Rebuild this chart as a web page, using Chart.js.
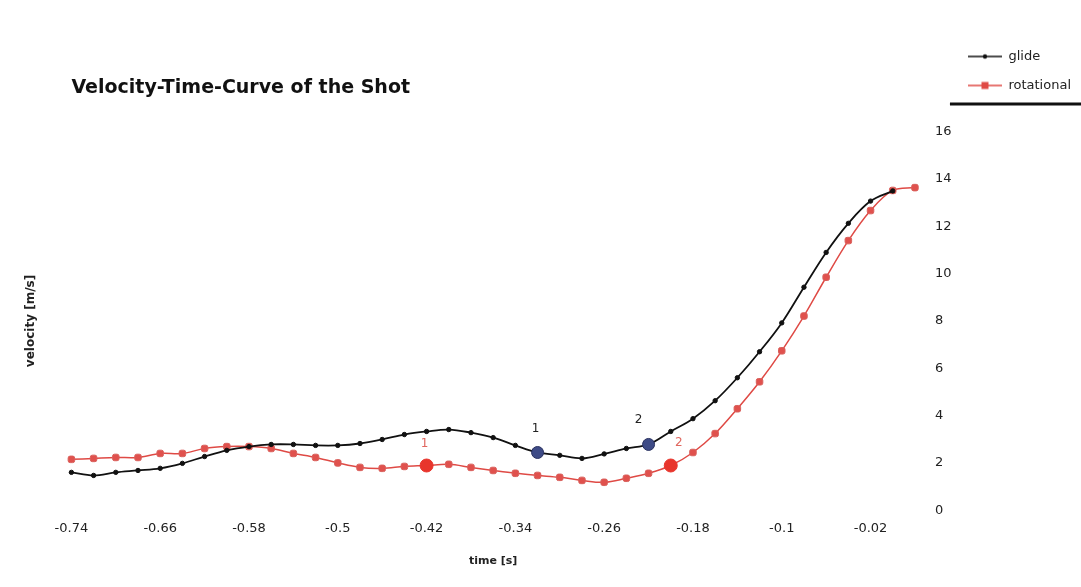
<!DOCTYPE html>
<html>
<head>
<meta charset="utf-8">
<script src="https://cdn.jsdelivr.net/npm/chart.js@4/dist/chart.umd.min.js"></script>
<style>
  html, body { margin: 0; padding: 0; background: #fff; }
</style>
</head>
<body>
<canvas id="chart" width="1081" height="587"></canvas>
<script>
// time axis (s), one point every 0.02 s
const times = [-0.74, -0.72, -0.7, -0.68, -0.66, -0.64, -0.62, -0.6, -0.58, -0.56,
  -0.54, -0.52, -0.5, -0.48, -0.46, -0.44, -0.42, -0.4, -0.38, -0.36,
  -0.34, -0.32, -0.3, -0.28, -0.26, -0.24, -0.22, -0.2, -0.18, -0.16,
  -0.14, -0.12, -0.1, -0.08, -0.06, -0.04, -0.02, 0, 0.02];
const xTickLabels = ['-0.74', '-0.66', '-0.58', '-0.5', '-0.42', '-0.34', '-0.26', '-0.18', '-0.1', '-0.02'];

// velocity (m/s)
const glide = [1.6, 1.47, 1.6, 1.68, 1.77, 1.98, 2.27, 2.53, 2.69, 2.78,
  2.78, 2.74, 2.74, 2.82, 2.99, 3.2, 3.33, 3.41, 3.28, 3.07,
  2.74, 2.44, 2.32, 2.19, 2.38, 2.61, 2.78, 3.33, 3.87, 4.63,
  5.6, 6.7, 7.92, 9.43, 10.9, 12.13, 13.07, 13.5];
const rotational = [2.15, 2.19, 2.23, 2.23, 2.4, 2.4, 2.61, 2.69, 2.69, 2.61,
  2.4, 2.23, 2.0, 1.81, 1.77, 1.85, 1.89, 1.94, 1.81, 1.68,
  1.56, 1.47, 1.39, 1.26, 1.18, 1.35, 1.56, 1.89, 2.44, 3.24,
  4.29, 5.43, 6.74, 8.21, 9.85, 11.4, 12.67, 13.52, 13.64];

// highlighted points (index into the series) and their labels
const glideMarks = [21, 26];
const rotMarks = [16, 27];
const markLabels = ['1', '2'];

const BLACK = '#111111';
const RED = '#df4a45';

Chart.defaults.font.family = '"DejaVu Sans", sans-serif';
Chart.defaults.color = '#222';

// small line+marker picture for the legend
function legendIcon(color, square, r) {
  const c = document.createElement('canvas');
  c.width = 34; c.height = 12;
  const g = c.getContext('2d');
  g.strokeStyle = color;
  g.lineWidth = 1.5;
  g.beginPath(); g.moveTo(0, 6); g.lineTo(34, 6); g.stroke();
  g.fillStyle = color;
  if (square) {
    g.fillRect(17 - r, 6 - r, 2 * r, 2 * r);
  } else {
    g.beginPath(); g.arc(17, 6, r, 0, Math.PI * 2); g.fill();
  }
  return c;
}
const icons = [legendIcon(BLACK, false, 2.2), legendIcon(RED, true, 3.5)];

// numbers above the highlighted points
const markText = {
  id: 'markText',
  afterDatasetsDraw(chart) {
    const ctx = chart.ctx;
    const sets = [
      {ds: 0, marks: glideMarks, color: '#222', off: [[-2, -20], [-10, -21]]},
      {ds: 1, marks: rotMarks, color: '#e0675f', off: [[-2, -19], [8, -20]]}
    ];
    ctx.save();
    ctx.font = '12px "DejaVu Sans", sans-serif';
    ctx.textAlign = 'center';
    sets.forEach(s => {
      const pts = chart.getDatasetMeta(s.ds).data;
      ctx.fillStyle = s.color;
      s.marks.forEach((idx, k) => {
        const p = pts[idx];
        ctx.fillText(markLabels[k], p.x + s.off[k][0], p.y + s.off[k][1]);
      });
    });
    ctx.restore();
  }
};

// dark rule under the legend (as in the scanned original)
const legendRule = {
  id: 'legendRule',
  afterDraw(chart) {
    const lg = chart.legend;
    const ctx = chart.ctx;
    ctx.save();
    ctx.strokeStyle = '#111';
    ctx.lineWidth = 3;
    ctx.beginPath();
    ctx.moveTo(lg.left - 2, lg.top + 70);
    ctx.lineTo(chart.width, lg.top + 70);
    ctx.stroke();
    ctx.restore();
  }
};

new Chart(document.getElementById('chart'), {
  type: 'line',
  data: {
    labels: times.map(String),
    datasets: [{
      label: 'glide',
      data: glide,
      borderColor: BLACK,
      borderWidth: 1.8,
      tension: 0.35,
      pointStyle: 'circle',
      pointRadius: c => glideMarks.includes(c.dataIndex) ? 6 : 2.2,
      pointBackgroundColor: c => glideMarks.includes(c.dataIndex) ? '#3e4b86' : BLACK,
      pointBorderColor: c => glideMarks.includes(c.dataIndex) ? '#2a3260' : BLACK,
      pointBorderWidth: 1
    }, {
      label: 'rotational',
      data: rotational,
      borderColor: RED,
      borderWidth: 1.5,
      tension: 0.35,
      pointStyle: c => rotMarks.includes(c.dataIndex) ? 'circle' : 'rectRounded',
      pointRadius: c => rotMarks.includes(c.dataIndex) ? 6.5 : 3.8,
      pointBackgroundColor: c => rotMarks.includes(c.dataIndex) ? '#e8352c' : '#e0514d',
      pointBorderColor: c => rotMarks.includes(c.dataIndex) ? '#e8352c' : '#d9605c',
      pointBorderWidth: 1
    }]
  },
  options: {
    responsive: false,
    animation: false,
    layout: {padding: {top: 34, left: 20, right: 0, bottom: 19}},
    scales: {
      x: {
        grid: {display: false, drawTicks: false},
        border: {display: false},
        ticks: {
          autoSkip: false,
          maxRotation: 0,
          padding: 11,
          font: {size: 13},
          callback(value) {
            const s = this.getLabelForValue(value);
            return xTickLabels.includes(s) ? s : '';
          }
        },
        title: {
          display: true,
          text: 'time [s]',
          font: {size: 11, weight: 'bold'},
          padding: {top: 7, bottom: 0}
        }
      },
      y: {
        position: 'right',
        min: 0,
        max: 16,
        grid: {display: false, drawTicks: false},
        border: {display: false},
        ticks: {stepSize: 2, padding: 20, font: {size: 13}},
        afterFit(scale) { scale.width = 37; }
      },
      yl: {
        position: 'left',
        min: 0,
        max: 16,
        grid: {display: false, drawTicks: false},
        border: {display: false},
        ticks: {display: false},
        title: {
          display: true,
          text: 'velocity [m/s]',
          font: {size: 12, weight: 'bold'},
          padding: {top: 4, bottom: 33}
        }
      }
    },
    plugins: {
      title: {
        display: true,
        text: 'Velocity-Time-Curve of the Shot',
        align: 'start',
        fullSize: false,
        color: '#111',
        font: {size: 19, weight: 'bold'},
        padding: {top: 43, bottom: 32}
      },
      legend: {
        position: 'right',
        align: 'start',
        maxWidth: 130,
        labels: {
          usePointStyle: true,
          pointStyleWidth: 34,
          padding: 16,
          color: '#222',
          font: {size: 13},
          generateLabels(chart) {
            const items = Chart.defaults.plugins.legend.labels.generateLabels(chart);
            items.forEach((it, i) => { it.pointStyle = icons[i]; });
            return items;
          }
        }
      },
      tooltip: {enabled: false}
    }
  },
  plugins: [markText, legendRule]
});
</script>
</body>
</html>
